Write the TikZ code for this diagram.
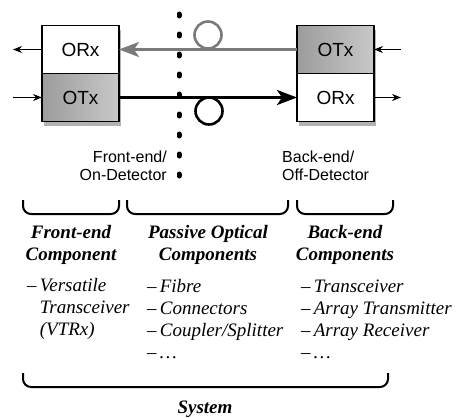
\documentclass[tikz,border=0pt]{standalone}
\usepackage{fontspec}
\setmainfont{Liberation Serif}
\setsansfont{Liberation Sans}
\usetikzlibrary{arrows.meta,positioning,shadows}
\definecolor{fibre_grey}{HTML}{7A7A7A}
\definecolor{box_dark}{HTML}{9C9C9C}
\definecolor{box_light}{HTML}{C8C8C8}

\tikzset{
  cell/.style={draw, line width=1.4pt, outer sep=0pt, inner sep=0pt,
    minimum width=77pt, minimum height=48pt,
    font=\sffamily\fontsize{19}{22}\selectfont,
    drop shadow={shadow xshift=2pt, shadow yshift=-4pt, opacity=.3, fill=black}},
  rxcell/.style={cell, fill=white},
  txcell/.style={cell, left color=box_dark, right color=box_light},
  fibre/.style={line width=2.6pt, -{Stealth[length=20pt,width=15pt,inset=5pt]}},
  io/.style={line width=1.3pt, -{Stealth[length=9pt,width=7pt]}},
  loop/.style={circle, line width=2.6pt, minimum size=27pt, inner sep=0pt},
  cutline/.style={line width=5pt, line cap=round, dash pattern=on 2pt off 18pt},
  sidelabel/.style={inner sep=0pt, font=\sffamily\fontsize{16}{18}\selectfont},
  heading/.style={inner sep=0pt, anchor=base, align=center,
    font=\bfseries\itshape\fontsize{19}{22}\selectfont},
  items/.style={inner sep=0pt, anchor=base west, align=left,
    font=\itshape\fontsize{19}{22}\selectfont},
  bracket/.style={line width=2pt, rounded corners=8pt}
}

\begin{document}
\begin{tikzpicture}[x=1pt,y=-1pt]
\useasboundingbox (0,0) rectangle (459,418);

% front-end transceiver
\node[rxcell] (frx) at (80.5,49.5) {ORx};
\node[txcell, below=0pt of frx] (ftx) {OTx};

% back-end transceiver
\node[txcell] (btx) at (335.5,49.5) {OTx};
\node[rxcell, below=0pt of btx] (brx) {ORx};

% detector boundary
\coordinate (cuttop) at (179,14);
\coordinate (cutbot) at (179,176);
\draw[cutline] (cuttop) -- (cutbot);

% fibre links
\draw[fibre, fibre_grey] (btx.west) -- (frx.east);
\draw[fibre] (ftx.east) -- (brx.west);
\node[loop, draw=fibre_grey] (uploop) at (208,35) {};
\node[loop, draw=black] (downloop) at (209,111) {};

% electrical in/out
\coordinate (frxout) at (13,49.5);
\coordinate (ftxin) at (13,97.5);
\coordinate (btxin) at (401,49.5);
\coordinate (brxout) at (401,97.5);
\draw[io] (frx.west) -- (frxout);
\draw[io] (ftxin) -- (ftx.west);
\draw[io] (btxin) -- (btx.east);
\draw[io] (brx.east) -- (brxout);

% base anchor sits on the last line
\node[sidelabel, anchor=base east, align=right] (frontlbl) at (167,180) {Front-end/\\On-Detector};
\node[sidelabel, anchor=base west, align=left] (backlbl) at (282,180) {Back-end/\\Off-Detector};

% component groups
\draw[bracket] (23,200) -- (23,214) -- (119,214) -- (119,200);
\draw[bracket] (127,200) -- (127,214) -- (288,214) -- (288,200);
\draw[bracket] (297,200) -- (297,214) -- (393,214) -- (393,200);

\node[heading] (fehead) at (71,260) {Front-end\\Component};
\node[heading] (pohead) at (208,260) {Passive Optical\\Components};
\node[heading] (behead) at (345,260) {Back-end\\Components};

\node[items] (felist) at (27,335) {\textendash\,Versatile\\
  \phantom{\textendash\,}Transceiver\\
  \phantom{\textendash\,}(VTRx)};
\node[items] (polist) at (147,358) {\textendash\,Fibre\\
  \textendash\,Connectors\\
  \textendash\,Coupler/Splitter\\
  \textendash\,\ldots};
\node[items] (belist) at (301,358) {\textendash\,Transceiver\\
  \textendash\,Array Transmitter\\
  \textendash\,Array Receiver\\
  \textendash\,\ldots};

% whole system
\draw[bracket] (23,373) -- (23,387) -- (388,387) -- (388,373);
\node[heading] (syslbl) at (205,413) {System};

\end{tikzpicture}
\end{document}
